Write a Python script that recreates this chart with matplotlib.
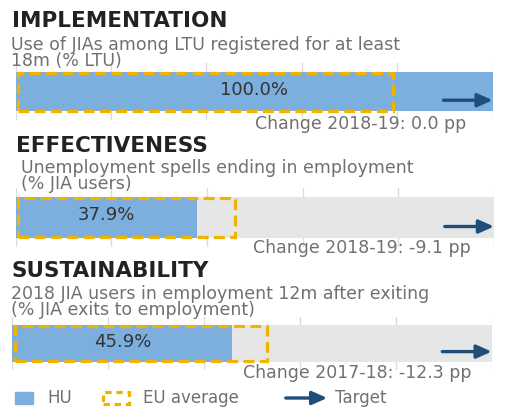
import matplotlib
matplotlib.use("Agg")
import matplotlib.pyplot as plt
from matplotlib.patches import Rectangle, FancyArrowPatch

# ==========================================
# DATA
# ==========================================
titles = ["IMPLEMENTATION", "EFFECTIVENESS", "SUSTAINABILITY"]
subtitles = [
    "Use of JIAs among LTU registered for at least\n18m (% LTU)",
    "Unemployment spells ending in employment\n(% JIA users)",
    "2018 JIA users in employment 12m after exiting\n(% JIA exits to employment)",
]
hu_values = [100.0, 37.9, 45.9]
eu_values = [79.0, 45.9, 53.1]
target_values = [100.0, 100.0, 100.0]
changes = ["Change 2018-19: 0.0 pp", "Change 2018-19: -9.1 pp", "Change 2017-18: -12.3 pp"]
ticks = [0, 20, 40, 60, 80, 100]

# ==========================================
# STYLE
# ==========================================
HU_BLUE = "#7cafde"
BG_GREY = "#e6e6e6"
EU_GOLD = "#f0b400"
ARROW = "#1f4e79"
TXT_GREY = "#707070"
TITLE_COL = "#222222"
SUB_SIZE = 12.5

W, H = 510, 409
fig = plt.figure(figsize=(W / 100, H / 100), dpi=100)


def fx(px):
    return px / W


def fy(py):
    return 1 - py / H


# panel layout in pixels
panels = [
    dict(l=15.7, r=492.7, t=63, b=120, ty=21, tx=12, sx=11, sy=53, cy=124, cx=466),
    dict(l=15.7, r=494.0, t=188, b=247, ty=146, tx=16, sx=21, sy=176, cy=248, cx=471),
    dict(l=12.3, r=491.7, t=317, b=370, ty=271, tx=12, sx=11, sy=302, cy=373, cx=472),
]

for i, p in enumerate(panels):
    ax = fig.add_axes([fx(p["l"]), fy(p["b"]), fx(p["r"] - p["l"]), (p["b"] - p["t"]) / H])
    ax.set_xlim(0, 100)
    ax.set_ylim(-0.72, 0.72)
    for s in ax.spines.values():
        s.set_visible(False)
    ax.set_xticks(ticks)
    ax.set_yticks([])
    ax.tick_params(length=0, labelbottom=False)
    ax.grid(axis="x", color="#dcdcdc", lw=1)
    ax.set_axisbelow(True)
    ax.patch.set_alpha(0)

    # background + HU bar
    ax.barh(0, 100, height=1, color=BG_GREY, zorder=1)
    ax.barh(0, hu_values[i], height=1, color=HU_BLUE, zorder=2)

    # EU average dashed box
    ax.add_patch(Rectangle((0.5, -0.48), eu_values[i] - 0.5, 0.96, fill=False,
                           edgecolor=EU_GOLD, lw=2.3, linestyle=(0, (3.4, 1.7)), zorder=4))

    # value label
    ax.text(hu_values[i] / 2, 0.05, f"{hu_values[i]:.1f}%", ha="center", va="center",
            fontsize=13, color="#333333", zorder=5)

    # target arrow
    ax.annotate("", xy=(target_values[i], -0.22), xytext=(target_values[i] - 10.3, -0.22),
                arrowprops=dict(arrowstyle="-|>,head_length=0.9,head_width=0.4",
                                color=ARROW, lw=2.4, shrinkA=0, shrinkB=0), zorder=6)

    fig.text(fx(p["tx"]), fy(p["ty"]), titles[i], fontsize=15.5, fontweight="heavy",
             color=TITLE_COL, va="center", ha="left")
    fig.text(fx(p["sx"]), fy(p["sy"]), subtitles[i], fontsize=SUB_SIZE, color=TXT_GREY,
             va="center", ha="left", linespacing=0.8)
    fig.text(fx(p["cx"]), fy(p["cy"]), changes[i], fontsize=SUB_SIZE, color=TXT_GREY,
             va="center", ha="right")

# ==========================================
# LEGEND
# ==========================================
ly = 398
fig.patches.append(Rectangle((fx(15), fy(ly + 6)), fx(18), 12 / H, transform=fig.transFigure,
                             color=HU_BLUE))
fig.text(fx(47), fy(ly), "HU", fontsize=12, color=TXT_GREY, va="center")
fig.patches.append(Rectangle((fx(103), fy(ly + 6)), fx(26), 12 / H, transform=fig.transFigure,
                             fill=False, edgecolor=EU_GOLD, lw=2.3, linestyle=(0, (2, 1.5))))
fig.text(fx(143), fy(ly), "EU average", fontsize=12, color=TXT_GREY, va="center")
fig.add_artist(FancyArrowPatch(
    (fx(283), fy(ly)), (fx(330), fy(ly)), transform=fig.transFigure,
    arrowstyle="-|>,head_length=0.9,head_width=0.4", color=ARROW, lw=2.4,
    mutation_scale=10))
fig.text(fx(335), fy(ly), "Target", fontsize=12, color=TXT_GREY, va="center")

fig.savefig("out.png", dpi=100)
